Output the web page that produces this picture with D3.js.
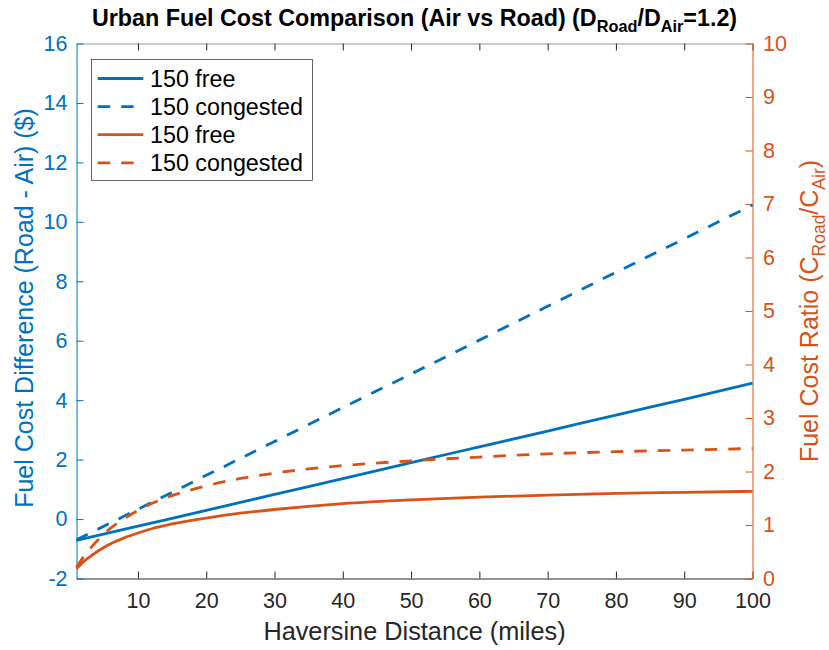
<!DOCTYPE html>
<html><head><meta charset="utf-8">
<script src="https://cdn.jsdelivr.net/npm/d3@7"></script>
<style>
body{margin:0;background:#fff}
svg{display:block}
text{font-family:"Liberation Sans",Arial,Helvetica,sans-serif}
</style>
</head><body>
<svg id="c" width="829" height="650"></svg>
<script>
// ---------- data ----------
const xBlue = [1, 10, 20, 30, 40, 50, 60, 70, 80, 90, 100];
const blueFree = [-0.72, -0.24, 0.29, 0.83, 1.36, 1.90, 2.43, 2.96, 3.50, 4.03, 4.57];
const blueCongested = [-0.70, 0.33, 1.47, 2.61, 3.75, 4.88, 6.02, 7.16, 8.30, 9.43, 10.57];

const xOrange = [1, 2, 3, 4, 5, 6, 8, 10, 12, 15, 20, 25, 30, 35, 40, 50, 60, 70, 80, 90, 100];
const orangeFree = [0.18, 0.31, 0.41, 0.50, 0.58, 0.65, 0.76, 0.85, 0.93, 1.02, 1.13, 1.22, 1.29, 1.35, 1.40, 1.47, 1.52, 1.56, 1.59, 1.61, 1.63];
const orangeCongested = [0.21, 0.40, 0.56, 0.70, 0.83, 0.94, 1.12, 1.27, 1.40, 1.55, 1.73, 1.87, 1.97, 2.05, 2.11, 2.20, 2.27, 2.33, 2.37, 2.40, 2.43];

const xTicks = [10, 20, 30, 40, 50, 60, 70, 80, 90, 100];
const leftTicks = [-2, 0, 2, 4, 6, 8, 10, 12, 14, 16];
const rightTicks = [0, 1, 2, 3, 4, 5, 6, 7, 8, 9, 10];
const legendLabels = ["150 free", "150 congested", "150 free", "150 congested"];

// ---------- setup ----------
const BLUE = "#0072BD", ORANGE = "#D95319", DARK = "#262626";
const L = 76.5, R = 752.5, T = 43.5, B = 578.5;
const svg = d3.select("#c");

const x = d3.scaleLinear().domain([1, 100]).range([L, R]);
const yL = d3.scaleLinear().domain([-2, 16]).range([B, T]);
const yR = d3.scaleLinear().domain([0, 10]).range([B, T]);
const fmt = d => String(d);

function styleAxis(g, color, lineColor, fs) {
  g.select(".domain").attr("stroke", lineColor).attr("stroke-width", 1);
  g.selectAll(".tick line").attr("stroke", color).attr("stroke-width", 1);
  g.selectAll(".tick text").attr("fill", color).style("font-size", fs + "px")
    .style("font-family", '"Liberation Sans",Arial,Helvetica,sans-serif');
}

// top (no labels)
const gTop = svg.append("g").attr("transform", `translate(0,${T})`)
  .call(d3.axisTop(x).tickValues(xTicks).tickSizeInner(-7).tickSizeOuter(0).tickFormat(""));
styleAxis(gTop, DARK, "#9a9a9a", 21);

// bottom
const gBot = svg.append("g").attr("transform", `translate(0,${B})`)
  .call(d3.axisBottom(x).tickValues(xTicks).tickSizeInner(-7).tickSizeOuter(0).tickPadding(14.5).tickFormat(fmt));
styleAxis(gBot, DARK, DARK, 21.5);

// left
const gLeft = svg.append("g").attr("transform", `translate(${L},0)`)
  .call(d3.axisLeft(yL).tickValues(leftTicks).tickSizeInner(-7).tickSizeOuter(0).tickPadding(9).tickFormat(fmt));
styleAxis(gLeft, BLUE, BLUE, 21.5);

// right
const gRight = svg.append("g").attr("transform", `translate(${R},0)`)
  .call(d3.axisRight(yR).tickValues(rightTicks).tickSizeInner(-7).tickSizeOuter(0).tickPadding(10.5).tickFormat(fmt));
styleAxis(gRight, ORANGE, ORANGE, 21.5);

// ---------- lines ----------
const DASH = "12.5,11";
const LW = 2.8;
function drawLine(xs, ys, yScale, color, dashed) {
  const pts = xs.map((d, i) => [d, ys[i]]);
  svg.append("path").datum(pts)
    .attr("fill", "none").attr("stroke", color).attr("stroke-width", LW)
    .attr("stroke-dasharray", dashed ? DASH : null)
    .attr("d", d3.line().x(d => x(d[0])).y(d => yScale(d[1])).curve(d3.curveMonotoneX));
}
drawLine(xBlue, blueFree, yL, BLUE, false);
drawLine(xBlue, blueCongested, yL, BLUE, true);
drawLine(xOrange, orangeFree, yR, ORANGE, false);
drawLine(xOrange, orangeCongested, yR, ORANGE, true);

// ---------- title ----------
const title = svg.append("text").attr("x", (L + R) / 2).attr("y", 26)
  .attr("text-anchor", "middle").style("font-size", "23.3px").style("font-weight", "bold").attr("fill", "#000");
title.append("tspan").text("Urban Fuel Cost Comparison (Air vs Road) (D");
title.append("tspan").text("Road").style("font-size", "16.3px").attr("dy", 6);
title.append("tspan").text("/D").attr("dy", -6);
title.append("tspan").text("Air").style("font-size", "16.3px").attr("dy", 6);
title.append("tspan").text("=1.2)").attr("dy", -6);

// ---------- axis labels ----------
svg.append("text").attr("x", (L + R) / 2).attr("y", 640).attr("text-anchor", "middle")
  .style("font-size", "25.3px").attr("fill", DARK).text("Haversine Distance (miles)");

svg.append("text").attr("transform", `translate(33,${(T + B) / 2 - 3}) rotate(-90)`)
  .attr("text-anchor", "middle").style("font-size", "25px").attr("fill", BLUE)
  .text("Fuel Cost Difference (Road - Air) ($)");

const rl = svg.append("text").attr("transform", `translate(818,${(T + B) / 2}) rotate(-90)`)
  .attr("text-anchor", "middle").style("font-size", "25px").attr("fill", ORANGE);
rl.append("tspan").text("Fuel Cost Ratio (C");
rl.append("tspan").text("Road").style("font-size", "17.5px").attr("dy", 7);
rl.append("tspan").text("/C").attr("dy", -7);
rl.append("tspan").text("Air").style("font-size", "17.5px").attr("dy", 7);
rl.append("tspan").text(")").attr("dy", -7);

// ---------- legend ----------
const leg = svg.append("g");
leg.append("rect").attr("x", 91.5).attr("y", 59.5).attr("width", 221).attr("height", 121)
  .attr("fill", "#fff").attr("stroke", DARK).attr("stroke-width", 0.7);
const legColors = [BLUE, BLUE, ORANGE, ORANGE];
const legDashed = [false, true, false, true];
const rowY = d3.scaleLinear().domain([0, 3]).range([78.5, 162.8]);
legendLabels.forEach((lab, i) => {
  const yy = rowY(i);
  leg.append("line").attr("x1", 97.7).attr("x2", 143.3).attr("y1", yy).attr("y2", yy)
    .attr("stroke", legColors[i]).attr("stroke-width", LW)
    .attr("stroke-dasharray", legDashed[i] ? DASH : null);
  leg.append("text").attr("x", 150).attr("y", yy + 8).style("font-size", "23.3px")
    .attr("fill", "#000").text(lab);
});
</script>
</body></html>
